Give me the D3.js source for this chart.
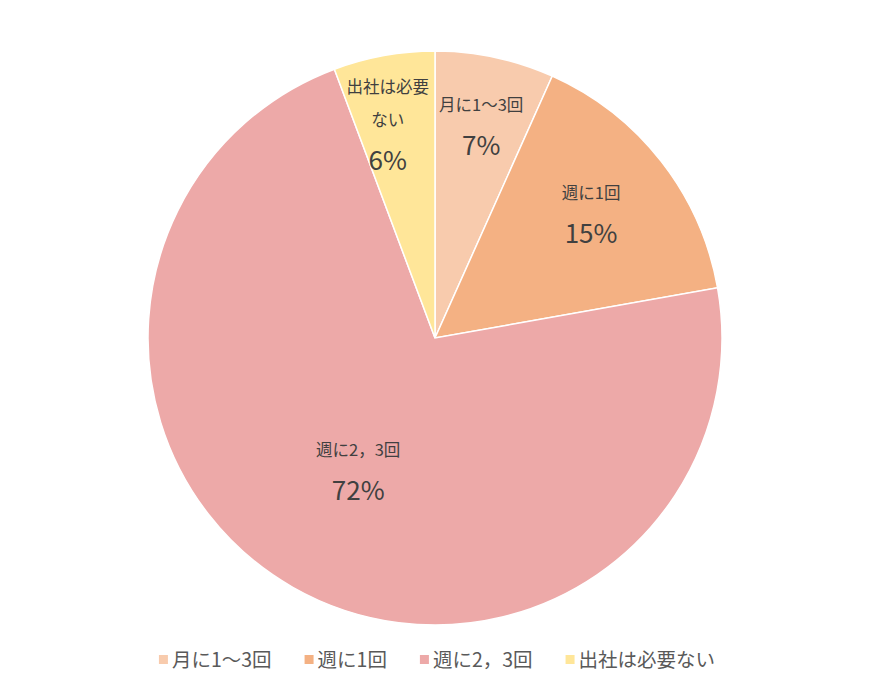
<!DOCTYPE html>
<html lang="ja">
<head>
    <meta charset="UTF-8">
    <script src="https://d3js.org/d3.v7.min.js"></script>
    <title>出社頻度</title>
    <style>
        body { margin: 0; background: #fff; }
        text { font-family: "Noto Sans CJK JP", "Noto Sans", sans-serif; }
    </style>
</head>
<body>
    <div id="chart"></div>
    <script>
        // data (share of answers, %)
        const categories = ["月に1〜3回", "週に1回", "週に2，3回", "出社は必要ない"];
        const labelLines = [["月に1〜3回"], ["週に1回"], ["週に2，3回"], ["出社は必要", "ない"]];
        const values = [6.7, 15.5, 72.1, 5.7];
        const percentLabels = ["7%", "15%", "72%", "6%"];
        const colors = ["#F8CBAD", "#F4B183", "#EDA9A8", "#FFE699"];

        const width = 870, height = 680;
        const cx = 435, cy = 338, radius = 287;

        const svg = d3.select("#chart").append("svg")
            .attr("width", width)
            .attr("height", height);

        const g = svg.append("g").attr("transform", `translate(${cx},${cy})`);

        const pie = d3.pie().sort(null).value(d => d.value);
        const data = categories.map((c, i) => ({ name: c, value: values[i], i: i }));
        const arcs = pie(data);

        const arc = d3.arc().innerRadius(0).outerRadius(radius);

        g.selectAll("path")
            .data(arcs)
            .enter()
            .append("path")
            .attr("d", arc)
            .attr("fill", d => colors[d.data.i])
            .attr("stroke", "#fff")
            .attr("stroke-width", 1.5);

        // labels: small slices further out, big one further in (like Excel best fit)
        const labelPos = d => {
            const share = (d.endAngle - d.startAngle) / (2 * Math.PI);
            const r = share > 0.5 ? radius * 0.54 : radius * (share < 0.1 ? 0.75 : 0.69);
            return d3.arc().innerRadius(r).outerRadius(r).centroid(d);
        };

        const labels = g.selectAll("g.label")
            .data(arcs)
            .enter()
            .append("g")
            .attr("class", "label");

        labels.each(function (d) {
            const lines = labelLines[d.data.i];
            const sel = d3.select(this);
            const lineH = 33;
            const total = lines.length * lineH + 37;
            let y0 = -total / 2 + 18;
            lines.forEach((t, k) => {
                sel.append("text")
                    .attr("x", 0)
                    .attr("y", y0 + k * lineH)
                    .attr("text-anchor", "middle")
                    .attr("font-size", 16.5)
                    .attr("fill", "#404040")
                    .text(t);
            });
            sel.append("text")
                .attr("x", 0)
                .attr("y", y0 + lines.length * lineH + 11)
                .attr("text-anchor", "middle")
                .attr("font-size", 26)
                .attr("fill", "#404040")
                .text(percentLabels[d.data.i]);
        });

        // place labels, nudging them off the vertical slice edge if needed
        labels.attr("transform", function (d) {
            let [x, y] = labelPos(d);
            const bb = this.getBBox();
            if (d.startAngle >= Math.PI && x + bb.x + bb.width > -6) {
                x = -6 - (bb.x + bb.width);
            }
            if (d.endAngle <= Math.PI && x + bb.x < 4) {
                x = 4 - bb.x;
            }
            return `translate(${x},${y})`;
        });

        // legend
        const legendY = 660;
        const legend = svg.append("g");
        const item = legend.selectAll("g")
            .data(categories)
            .enter()
            .append("g");

        item.append("rect")
            .attr("width", 9)
            .attr("height", 9)
            .attr("y", legendY - 5)
            .attr("fill", (d, i) => colors[i]);

        item.append("text")
            .attr("x", 13)
            .attr("y", legendY + 7)
            .attr("font-size", 19.5)
            .attr("fill", "#595959")
            .text(d => d);

        // lay out legend items centred
        let widths = [];
        item.each(function () { widths.push(this.getBBox().width); });
        const gap = 33;
        const totalW = d3.sum(widths) + gap * (widths.length - 1);
        let x = (width - totalW) / 2 + 2;
        item.attr("transform", (d, i) => {
            const t = `translate(${x},0)`;
            x += widths[i] + gap;
            return t;
        });
    </script>
</body>
</html>
